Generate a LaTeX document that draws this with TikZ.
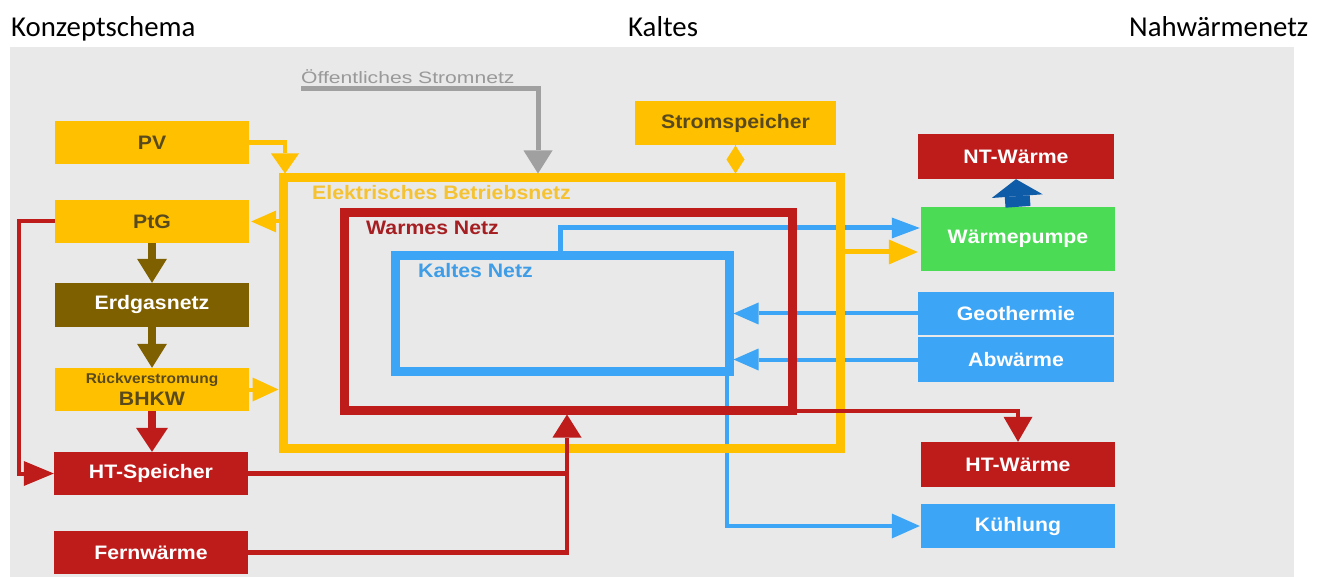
\documentclass[tikz,border=0pt]{standalone}
\usepackage{fontspec}
\usetikzlibrary{arrows.meta}
\newfontfamily\titlefont{Carlito}
\newfontfamily\boxfont[FakeStretch=1.09]{Liberation Sans}
\newfontfamily\grayfont[FakeStretch=1.28]{Liberation Sans}
\definecolor{cYel}{HTML}{FFC000}
\definecolor{cRed}{HTML}{BE1B1B}
\definecolor{cBlu}{HTML}{3DA5F5}
\definecolor{cGrn}{HTML}{4BDB55}
\definecolor{cBrn}{HTML}{7F6000}
\definecolor{cGry}{HTML}{A0A0A0}
\definecolor{cBg}{HTML}{E9E9E9}
\definecolor{cDBlu}{HTML}{0E5BA8}
\definecolor{cYTxt}{HTML}{594A1E}
\definecolor{cElTxt}{HTML}{F5C232}
\definecolor{cWaTxt}{HTML}{A51E22}
\definecolor{cKaTxt}{HTML}{3E9DE6}
\definecolor{cGTxt}{HTML}{999999}
\tikzset{
  boxnode/.style={rectangle, inner sep=0pt, minimum width=194pt, minimum height=43pt,
    font=\boxfont\bfseries\fontsize{19.5}{22}\selectfont},
  ybox/.style={boxnode, fill=cYel, text=cYTxt},
  rbox/.style={boxnode, fill=cRed, text=white},
  bbox/.style={boxnode, fill=cBlu, text=white},
  frame/.style={rectangle, inner sep=0pt, line width=9pt},
  framelabel/.style={anchor=base west, inner sep=0pt, font=\boxfont\bfseries\fontsize{19.5}{22}\selectfont},
  titletext/.style={anchor=base west, inner sep=0pt, font=\titlefont\fontsize{28.8}{30}\selectfont},
}
\begin{document}
\begin{tikzpicture}[x=1pt,y=-1pt]
\useasboundingbox (0,0) rectangle (1328,577);
\fill[cBg] (10,47) rectangle (1294,577);

% titles
\node[titletext] (t1) at (11,37) {Konzeptschema};
\node[titletext] (t2) at (628,37) {Kaltes};
\node[titletext] (t3) at (1129,37) {Nahwärmenetz};

% boxes (placed first for anchors; drawn on top later via layering order)
\node[ybox] (pv) at (152,142.5) {PV};
\node[ybox] (ptg) at (152,221.5) {PtG};
\node[boxnode, fill=cBrn, text=white, minimum height=44pt] (erd) at (152,305) {Erdgasnetz};
\node[ybox, align=center] (bhkw) at (152,389.5) {{\fontsize{14.2}{15}\selectfont Rückverstromung}\\BHKW};
\node[rbox] (hts) at (151,473.5) {HT-Speicher};
\node[rbox] (fern) at (151,552.5) {Fernwärme};
\node[ybox, minimum width=201pt, minimum height=44pt] (strom) at (735.5,123) {Stromspeicher};
\node[rbox, minimum width=196pt, minimum height=45pt] (ntw) at (1016,156.5) {NT-Wärme};
\node[boxnode, fill=cGrn, text=white, minimum height=64pt] (wp) at (1018,239) {Wärmepumpe};
\node[bbox, minimum width=196pt] (geo) at (1016,313.5) {Geothermie};
\node[bbox, minimum width=196pt, minimum height=45pt] (abw) at (1016,359.5) {Abwärme};
\node[rbox, minimum height=45pt] (htw) at (1018,464.5) {HT-Wärme};
\node[bbox, minimum height=44pt] (kuehl) at (1018,526) {Kühlung};

% gray label
\node[anchor=base west, inner sep=0pt, text=cGTxt, font=\grayfont\fontsize{16.5}{18}\selectfont] (oeff) at (301,84) {Öffentliches Stromnetz};

% blue connectors (below frames)
\coordinate (kaltframe) at (562,313.5);
\path (kaltframe) node[frame, minimum width=334pt, minimum height=115pt] (kalt) {};
\node[frame, minimum width=557pt, minimum height=270pt] (elek) at (561.5,313) {};
\node[frame, minimum width=448pt, minimum height=197pt] (warm) at (568,311.5) {};

\draw[cBlu, line width=5pt, -{Triangle[length=28pt,width=21pt,line width=0pt]}, shorten >=1pt]
  (560,0 |- kalt.north) |- (wp.west |- 0,228);
\draw[cBlu, line width=4pt, -{Triangle[length=28pt,width=25pt,line width=0pt]}, shorten >=1pt]
  (727,0 |- kalt.south) |- (kuehl.west);
\draw[cBlu, line width=4pt, -{Triangle[length=25pt,width=22pt,line width=0pt]}]
  (geo.west) -- (kalt.east |- geo.west);
\draw[cBlu, line width=4pt, -{Triangle[length=25pt,width=22pt,line width=0pt]}]
  (abw.west) -- (kalt.east |- abw.west);

% frames
\draw[cYel, line width=9pt] (elek.north west) ++(4.5,4.5) rectangle ([xshift=-4.5pt,yshift=4.5pt]elek.south east);
\draw[cRed, line width=9pt] (warm.north west) ++(4.5,4.5) rectangle ([xshift=-4.5pt,yshift=4.5pt]warm.south east);
\draw[cBlu, line width=9pt] (kalt.north west) ++(4.5,4.5) rectangle ([xshift=-4.5pt,yshift=4.5pt]kalt.south east);

\node[framelabel, text=cElTxt] (elekl) at (312,200) {Elektrisches Betriebsnetz};
\node[framelabel, text=cWaTxt] (warml) at (366,235) {Warmes Netz};
\node[framelabel, text=cKaTxt] (kaltl) at (418,278) {Kaltes Netz};

% yellow connectors
\draw[cYel, line width=5pt, -{Triangle[length=29pt,width=25pt,line width=0pt]}, shorten >=3pt]
  (elek.east |- 0,252) -- (wp.west |- 0,252);
\draw[cYel, line width=4.5pt, -{Triangle[length=20pt,width=28pt,line width=0pt]}]
  (pv.east) -| (285,0 |- elek.north);
\draw[cYel, line width=4pt, -{Triangle[length=25pt,width=22pt,line width=0pt]}, shorten >=2pt]
  (elek.west |- ptg.east) -- (ptg.east);
\draw[cYel, line width=4pt, -{Triangle[length=26pt,width=24pt,line width=0pt]}]
  (bhkw.east) -- (elek.west |- bhkw.east);
\draw[cYel, line width=1pt, -{Turned Square[length=28pt,width=18pt,line width=0pt]}]
  (strom.south) -- (strom.south |- elek.north);

% gray connector
\draw[cGry, line width=5pt, -{Triangle[length=23pt,width=29pt,line width=0pt]}]
  ([yshift=-5pt]oeff.base west) -| (538,0 |- elek.north);

% brown connectors
\draw[cBrn, line width=8pt, -{Triangle[length=24pt,width=30pt,line width=0pt]}]
  (ptg.south) -- (erd.north);
\draw[cBrn, line width=8pt, -{Triangle[length=24pt,width=30pt,line width=0pt]}]
  (erd.south) -- (bhkw.north);

% red connectors
\draw[cRed, line width=8pt, -{Triangle[length=24pt,width=32pt,line width=0pt]}]
  (bhkw.south) -- (bhkw.south |- hts.north);
\draw[cRed, line width=4pt, -{Triangle[length=30pt,width=25pt,line width=0pt]}]
  (ptg.west) -| ([xshift=-35pt]hts.west) -- (hts.west);
\draw[cRed, line width=4.5pt] (fern.east) -| (hts.east -| 567,0);
\draw[cRed, line width=4.5pt, -{Triangle[length=23pt,width=29pt,line width=0pt]}]
  (hts.east) -| (warm.south -| 567,0);
\draw[cRed, line width=4pt, -{Triangle[length=25pt,width=29pt,line width=0pt]}]
  ([yshift=3.5pt]warm.south east) -| (htw.north);

% heat pump to NT
\draw[cDBlu, line width=25pt, -{Triangle[length=17pt,width=51pt,line width=0pt]}]
  (wp.north) -- (ntw.south);
\end{tikzpicture}
\end{document}
